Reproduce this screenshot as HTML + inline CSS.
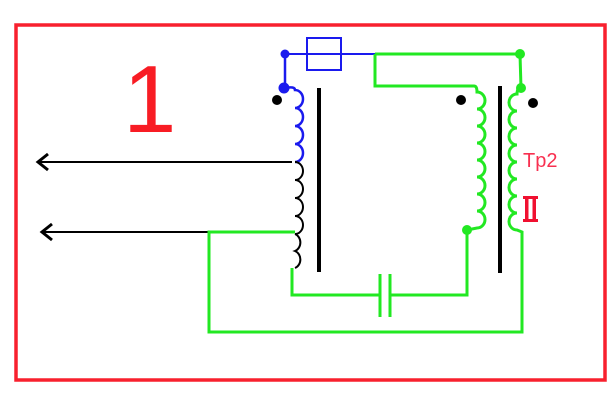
<!DOCTYPE html>
<html><head><style>body{margin:0;background:#fff}svg{display:block}</style></head>
<body>
<svg width="614" height="406" viewBox="0 0 614 406" xmlns="http://www.w3.org/2000/svg">
<rect x="16" y="25" width="589" height="355" fill="none" stroke="#f8202e" stroke-width="3.5"/>
<text x="123" y="132" font-family="Liberation Sans, sans-serif" font-size="96" fill="#f81c24">1</text>
<g stroke="#000" fill="none">
<line x1="38" y1="162" x2="292" y2="162" stroke-width="2"/>
<line x1="42" y1="232" x2="209" y2="232" stroke-width="2"/>
<polyline points="48,154 38,162 48,170" stroke-width="3"/>
<polyline points="52,224 42,232 52,240" stroke-width="3"/>
</g>
<line x1="319" y1="88" x2="319" y2="272" stroke="#000" stroke-width="4"/>
<line x1="500" y1="86" x2="500" y2="273" stroke="#000" stroke-width="4"/>
<g stroke="#1a1aee" fill="none" stroke-width="2.5">
<line x1="285" y1="54" x2="375" y2="54" stroke-width="2"/>
<rect x="307" y="38" width="34" height="32" stroke-width="2"/>
<line x1="285" y1="54" x2="285" y2="88"/>
<path d="M285,88 Q295,86 295,90 a8,9 0 0 1 0,18 a8,9 0 0 1 0,18 a8,9 0 0 1 0,18 a8,9 0 0 1 0,18"/>
</g>
<circle cx="285" cy="54" r="4.5" fill="#1a1aee"/>
<circle cx="284" cy="88" r="5.5" fill="#1a1aee"/>
<path d="M295,162 a8,9 0 0 1 0,18 a8,9 0 0 1 0,18 a8,9 0 0 1 0,18 a8,9 0 0 1 0,18 M295,234 a8,9 0 0 1 0,17 a8,9 0 0 1 0,17" stroke="#000" stroke-width="2" fill="none"/>
<g stroke="#22e822" fill="none" stroke-width="3">
<polyline points="375,54 520,54"/>
<polyline points="375,54 375,86 474,86"/>
<path d="M474,86 Q477,86 477,92 a8,8.5 0 0 1 0,17 a8,8.5 0 0 1 0,17 a8,8.5 0 0 1 0,17 a8,8.5 0 0 1 0,17 a8,8.5 0 0 1 0,17 a8,8.5 0 0 1 0,17 a8,8.5 0 0 1 0,17 a8,8.5 0 0 1 0,17 L467,230"/>
<polyline points="520,54 521,88"/>
<path d="M521,88 Q517,88 517,94 a8,8.5 0 0 0 0,17 a8,8.5 0 0 0 0,17 a8,8.5 0 0 0 0,17 a8,8.5 0 0 0 0,17 a8,8.5 0 0 0 0,17 a8,8.5 0 0 0 0,17 a8,8.5 0 0 0 0,17 a8,8.5 0 0 0 0,17 L522,232 L522,332 L209,332 L209,232 L295,232"/>
<polyline points="292,268 292,295 380,295"/>
<line x1="380" y1="274" x2="380" y2="317"/>
<line x1="390" y1="274" x2="390" y2="317"/>
<polyline points="390,295 467,295 467,230"/>
</g>
<circle cx="520" cy="54" r="5" fill="#22e822"/>
<circle cx="521" cy="88" r="5" fill="#22e822"/>
<circle cx="467" cy="230" r="5" fill="#22e822"/>
<circle cx="277" cy="100" r="5" fill="#000"/>
<circle cx="461" cy="100" r="5" fill="#000"/>
<circle cx="533" cy="103" r="5" fill="#000"/>
<text x="523" y="167" font-family="Liberation Sans, sans-serif" font-size="20" fill="#f83050">Tp2</text>
<g fill="#f01030">
<rect x="523" y="196" width="15" height="3"/>
<rect x="523" y="219" width="15" height="3"/>
<rect x="525" y="196" width="3.5" height="26"/>
<rect x="532.5" y="196" width="3.5" height="26"/>
</g>
</svg>
</body></html>
